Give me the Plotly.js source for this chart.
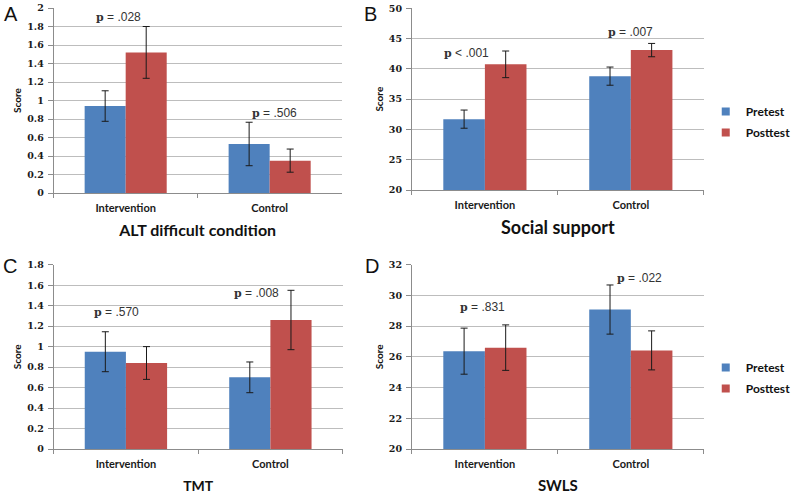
<!DOCTYPE html>
<html>
<head>
<meta charset="utf-8">
<script src="https://cdn.plot.ly/plotly-3.0.1.min.js"></script>
<style>html,body{margin:0;padding:0;background:#fff;}#chart{width:796px;height:495px;}</style>
</head>
<body>
<div id="chart"></div>
<script>
// ---- data ----
const categories = ['Intervention', 'Control'];
const seriesNames = ['Pretest', 'Posttest'];

const altPre = [0.94, 0.53];
const altPreErr = [0.165, 0.235];
const altPost = [1.52, 0.35];
const altPostErr = [0.28, 0.125];

const socPre = [31.7, 38.8];
const socPreErr = [1.5, 1.5];
const socPost = [40.75, 43.1];
const socPostErr = [2.2, 1.1];

const tmtPre = [0.95, 0.70];
const tmtPreErr = [0.195, 0.15];
const tmtPost = [0.84, 1.26];
const tmtPostErr = [0.16, 0.29];

const swlsPre = [26.37, 29.08];
const swlsPreErr = [1.5, 1.6];
const swlsPost = [26.6, 26.42];
const swlsPostErr = [1.48, 1.27];

const panelTitles = ['ALT difficult condition', 'Social support', 'TMT', 'SWLS'];
const panelLetters = ['A', 'B', 'C', 'D'];
const pLabelsA = ['p = .028', 'p = .506'];
const pLabelsB = ['p < .001', 'p = .007'];
const pLabelsC = ['p = .570', 'p = .008'];
const pLabelsD = ['p = .831', 'p = .022'];

// ---- styling / layout ----
const W = 796, H = 495;
const px = v => v / W;
const py = v => 1 - v / H;
const BLUE = '#4F81BD', RED = '#C0504D';

function barTrace(y, err, name, color, ax) {
  return {
    type: 'bar', x: categories, y: y, name: name,
    xaxis: 'x' + ax, yaxis: 'y' + ax,
    marker: {color: color, line: {width: 0}},
    error_y: {type: 'data', array: err, visible: true, color: '#1a1a1a', thickness: 1, width: 3.5},
    showlegend: false, hoverinfo: 'skip'
  };
}
function legendTrace(name, color, legendId) {
  return {
    type: 'scatter', mode: 'markers', x: [null], y: [null], name: name,
    xaxis: 'x2', yaxis: 'y2',
    marker: {symbol: 'square', size: 8, color: color},
    legend: legendId, showlegend: true, legendgroup: name + legendId
  };
}

const traces = [
  barTrace(altPre, altPreErr, seriesNames[0], BLUE, ''),
  barTrace(altPost, altPostErr, seriesNames[1], RED, ''),
  barTrace(socPre, socPreErr, seriesNames[0], BLUE, '2'),
  barTrace(socPost, socPostErr, seriesNames[1], RED, '2'),
  barTrace(tmtPre, tmtPreErr, seriesNames[0], BLUE, '3'),
  barTrace(tmtPost, tmtPostErr, seriesNames[1], RED, '3'),
  barTrace(swlsPre, swlsPreErr, seriesNames[0], BLUE, '4'),
  barTrace(swlsPost, swlsPostErr, seriesNames[1], RED, '4'),
  legendTrace(seriesNames[0], BLUE, 'legend'),
  legendTrace(seriesNames[1], RED, 'legend'),
  legendTrace(seriesNames[0], BLUE, 'legend2'),
  legendTrace(seriesNames[1], RED, 'legend2')
];

const tickFontY = {family: 'DejaVu Serif', size: 9.5, color: '#1a1a1a', weight: 'bold'};
const tickFontX = {family: 'Lato', size: 11, color: '#1a1a1a', weight: 'bold'};

function xAxis(dom, anchor, title, tsize) {
  return {
    domain: dom, anchor: anchor, type: 'category',
    showline: true, linecolor: '#8c8c8c', linewidth: 1,
    ticks: 'outside', tickson: 'boundaries', ticklen: 4, tickcolor: '#8c8c8c',
    tickfont: tickFontX, ticklabelstandoff: 5,
    showgrid: false, fixedrange: true,
    title: {text: title, font: {family: 'Lato', size: tsize, color: '#111', weight: 'bold'}, standoff: 11}
  };
}
function yAxis(dom, anchor, range, dtick) {
  return {
    domain: dom, anchor: anchor, range: range, dtick: dtick,
    showline: true, linecolor: '#8c8c8c', linewidth: 1,
    ticks: 'outside', ticklen: 5, tickcolor: '#8c8c8c',
    tickfont: tickFontY, ticklabelstandoff: 2,
    showgrid: true, gridcolor: '#bdbdbd', gridwidth: 1,
    zeroline: false, fixedrange: true,
    title: {text: 'Score', font: {family: 'Lato', size: 10, color: '#111', weight: 'bold'}, standoff: 3}
  };
}

const annFont = {family: 'Liberation Sans', size: 12, color: '#333'};
function pAnn(text, xref, yref, x, y, xshift) {
  const parts = text.split(' ');
  const html = "<span style='font-family:DejaVu Serif;font-weight:bold;font-size:11px'>p</span> " + parts.slice(1).join(' ');
  return {text: html, xref: xref, yref: yref, x: x, y: y, xshift: xshift,
          xanchor: 'center', yanchor: 'middle', showarrow: false, font: annFont};
}
function letterAnn(t, x, y) {
  return {text: t, xref: 'paper', yref: 'paper', x: px(x), y: py(y), xanchor: 'center', yanchor: 'middle',
          showarrow: false, font: {family: 'Liberation Sans', size: 20, color: '#111'}};
}

const legFont = {family: 'Lato', size: 12, color: '#111', weight: 'bold'};
const layout = {
  width: W, height: H,
  margin: {l: 0, r: 0, t: 0, b: 0},
  paper_bgcolor: '#fff', plot_bgcolor: '#fff',
  barmode: 'group', bargap: 0.43, bargroupgap: 0,
  xaxis: xAxis([px(55), px(350)], 'y', panelTitles[0], 16),
  yaxis: yAxis([py(193), py(8)], 'x', [0, 2], 0.2),
  xaxis2: xAxis([px(422), px(721)], 'y2', panelTitles[1], 18),
  yaxis2: yAxis([py(190), py(8.3)], 'x2', [20, 50], 5),
  xaxis3: xAxis([px(55), px(351)], 'y3', panelTitles[2], 14),
  yaxis3: yAxis([py(449), py(264.7)], 'x3', [0, 1.8], 0.2),
  xaxis4: xAxis([px(422), px(721)], 'y4', panelTitles[3], 15),
  yaxis4: yAxis([py(449), py(264.7)], 'x4', [20, 32], 2),
  legend: {x: px(723), y: py(97), xanchor: 'left', yanchor: 'top', tracegroupgap: 2,
           font: legFont, bgcolor: 'rgba(0,0,0,0)'},
  legend2: {x: px(723), y: py(353), xanchor: 'left', yanchor: 'top', tracegroupgap: 2,
           font: legFont, bgcolor: 'rgba(0,0,0,0)'},
  annotations: [
    pAnn(pLabelsA[0], 'x', 'y', categories[0], 1.90, -7),
    pAnn(pLabelsA[1], 'x', 'y', categories[1], 0.865, 5),
    pAnn(pLabelsB[0], 'x2', 'y2', categories[0], 42.66, -18),
    pAnn(pLabelsB[1], 'x2', 'y2', categories[1], 46.1, 0),
    pAnn(pLabelsC[0], 'x3', 'y3', categories[0], 1.34, -9),
    pAnn(pLabelsC[1], 'x3', 'y3', categories[1], 1.526, -14),
    pAnn(pLabelsD[0], 'x4', 'y4', categories[0], 29.26, -2),
    pAnn(pLabelsD[1], 'x4', 'y4', categories[1], 31.11, 9),
    letterAnn(panelLetters[0], 11, 14),
    letterAnn(panelLetters[1], 380, 14),
    letterAnn(panelLetters[2], 10, 266),
    letterAnn(panelLetters[3], 381, 266)
  ]
};

Plotly.newPlot('chart', traces, layout, {displayModeBar: false, staticPlot: true});
</script>
</body>
</html>
